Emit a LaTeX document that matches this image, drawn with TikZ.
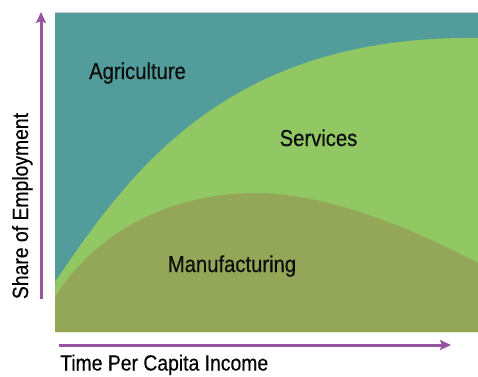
\documentclass[tikz,border=0pt]{standalone}
\usepackage{fontspec}
\setmainfont{Liberation Sans}[FakeStretch=0.88, FakeBold=0.4]
\usetikzlibrary{arrows.meta}
\definecolor{agri}{HTML}{529D9B}
\definecolor{serv}{HTML}{91C864}
\definecolor{manu}{HTML}{94A658}
\definecolor{axis}{HTML}{9655A0}
\tikzset{
  lbl/.style={inner sep=0pt, text=black!95, font=\fontsize{23}{27}\selectfont},
  axlbl/.style={inner sep=0pt, text=black, font=\fontsize{22}{26}\selectfont},
  axisarrow/.style={draw=axis, line width=3pt, -{Stealth[length=11pt,width=10pt,inset=2pt]}}
}
\begin{document}
\begin{tikzpicture}[x=1pt,y=-1pt]
\useasboundingbox (0,0) rectangle (478,376);
% plot area
\fill[agri] (55,12) rectangle (478,332);
\fill[serv] (55,282) .. controls (132,168) and (230,35) .. (478,38) -- (478,332) -- (55,332) -- cycle;
\fill[manu] (55,297) .. controls (100,225) and (180,193) .. (255,193) .. controls (320,193) and (400,222) .. (478,263) -- (478,332) -- (55,332) -- cycle;
\draw[black!20, line width=1pt] (55,12.5) -- (478,12.5);
% labels
\node[lbl, anchor=base] (agr) at (137.5,79) {Agriculture};
\node[lbl, anchor=base] (ser) at (318.5,146) {Services};
\node[lbl, anchor=base] (man) at (232,272) {Manufacturing};
% axes
\coordinate (ys) at (41,299);
\coordinate (ye) at (41,12);
\coordinate (xs) at (59,345);
\coordinate (xe) at (451,345);
\draw[axisarrow] (ys) -- (ye);
\draw[axisarrow] (xs) -- (xe);
\node[axlbl, rotate=90, anchor=base] (ylab) at (28,206) {Share of Employment};
\node[axlbl, anchor=base west] (xlab) at (60,370.5) {Time Per Capita Income};
\end{tikzpicture}
\end{document}
